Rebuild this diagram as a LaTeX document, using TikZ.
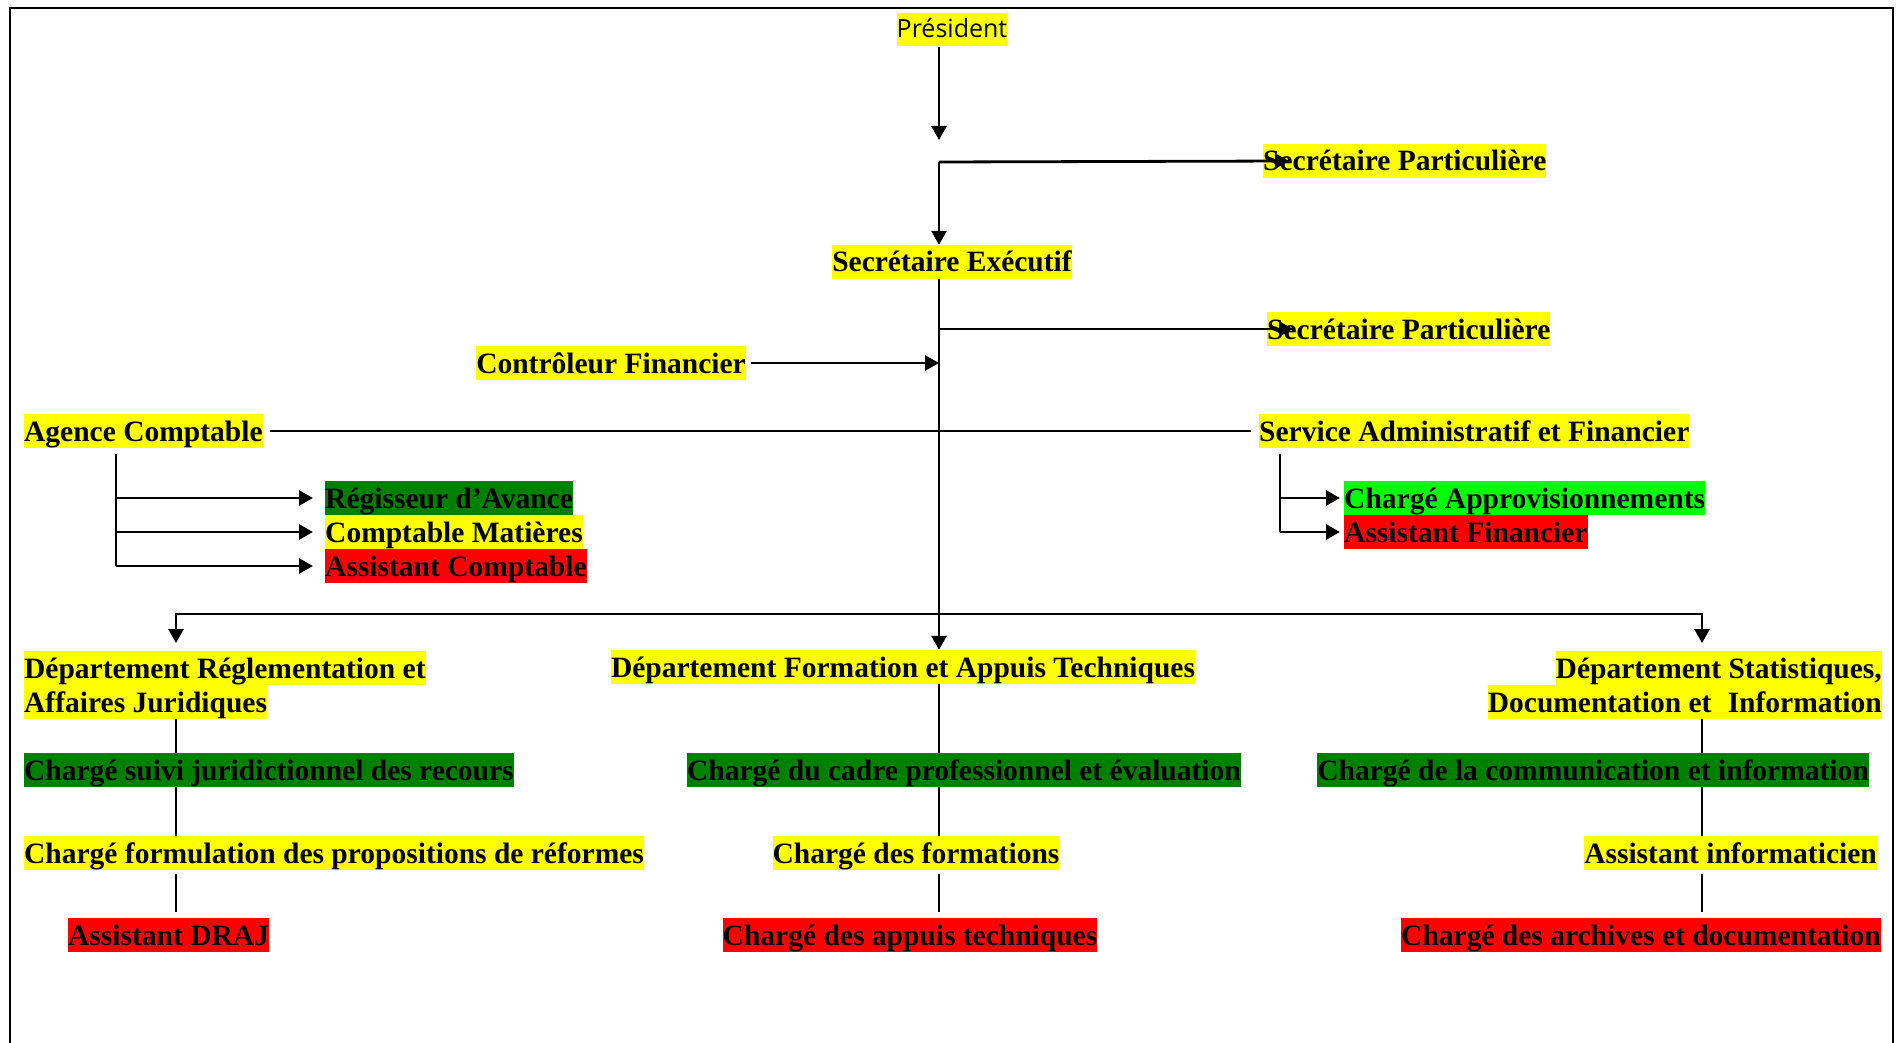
\documentclass[tikz,border=0pt]{standalone}
\usepackage{fontspec}
\setmainfont{Liberation Serif}
\newfontfamily\presfont{Open Sans}
\usetikzlibrary{arrows.meta,positioning,calc}
\definecolor{surjaune}{HTML}{FFFF00}
\definecolor{survert}{HTML}{008000}
\definecolor{survif}{HTML}{00FF00}
\definecolor{surrouge}{HTML}{FF0000}
\setlength{\fboxsep}{0pt}
\newcommand{\orgfont}{\fontsize{29.5}{34}\selectfont\bfseries}
\newcommand{\hlj}[1]{\colorbox{surjaune}{\rule[-7pt]{0pt}{34pt}#1}}
\tikzset{
  >={Triangle[length=14pt,width=15pt]},
  % postes
  poste/.style={inner sep=0pt,text height=27pt,text depth=7pt,font=\orgfont},
  jaune/.style={poste,fill=surjaune},
  vert/.style={poste,fill=survert},
  vif/.style={poste,fill=survif},
  rouge/.style={poste,fill=surrouge},
  bloc/.style={inner sep=0pt,font=\orgfont},
  % liens
  lien/.style={draw=black,line width=2.8pt},
  fleche/.style={lien,->},
  filet/.style={draw=black,line width=1.6pt},
  cadre/.style={draw=black,line width=2.2pt},
}
\begin{document}
\begin{tikzpicture}[x=1pt,y=-1pt]
  \useasboundingbox (0,0) rectangle (1899,1043);
  \draw[cadre] (10,1043) -- (10,8) -- (1893,8) -- (1893,1043);
  % direction
  \node[jaune,font=\presfont\fontsize{25}{28}\selectfont,text height=24pt,text depth=9pt]
    (pres) at (952,30) {Président};
  \node[jaune,anchor=west] (sp1) at (1263,161) {Secrétaire Particulière};
  \node[jaune] (se) at (952,262) {Secrétaire Exécutif};
  \node[jaune,anchor=west] (sp2) at (1267,329) {Secrétaire Particulière};
  \node[jaune,anchor=east] (cf) at (746,363) {Contrôleur Financier};
  \node[jaune,anchor=west] (ac) at (24,431) {Agence Comptable};
  \node[jaune,anchor=west] (saf) at (1259,431) {Service Administratif et Financier};
  \coordinate (j1) at (939,140);
  \coordinate (j2) at (939,162);
  \coordinate (bus) at (939,614);
  % agence comptable
  \node[vert,anchor=west] (reg) at (325,498) {Régisseur d’Avance};
  \node[jaune,anchor=west] (cmat) at (325,532) {Comptable Matières};
  \node[rouge,anchor=west] (acpt) at (325,566) {Assistant Comptable};
  \coordinate (acv) at (116,454);
  % service administratif
  \node[vif,anchor=west] (appro) at (1344,498) {Chargé Approvisionnements};
  \node[rouge,anchor=west] (afin) at (1344,532) {Assistant Financier};
  \coordinate (safv) at (1280,454);
  % departements
  \node[bloc,anchor=north west,align=left] (draj) at (24,651)
    {\hlj{Département Réglementation et}\\\hlj{Affaires Juridiques}};
  \node[jaune] (dfat) at (903,667) {Département Formation et Appuis Techniques\hspace{0.35em}};
  \node[bloc,anchor=north east,align=right] (dsdi) at (1882,651)
    {\hlj{Département Statistiques,}\\\hlj{Documentation et\hspace{0.3em} Information}};
  \coordinate (c1) at (176,643);
  \coordinate (c3) at (1702,643);
  \node[vert,anchor=west] (csj) at (24,770) {Chargé suivi juridictionnel des recours};
  \node[jaune,anchor=west] (cfr) at (24,853) {Chargé formulation des propositions de réformes};
  \node[rouge,anchor=west] (adraj) at (68,935) {Assistant DRAJ};
  \node[vert] (ccp) at (964,770) {Chargé du cadre professionnel et évaluation};
  \node[jaune] (cform) at (916,853) {Chargé des formations};
  \node[rouge] (capp) at (910,935) {Chargé des appuis techniques};
  \node[vert,anchor=east] (ccom) at (1869,770) {Chargé de la communication et information};
  \node[jaune,anchor=east] (ainf) at (1877,853) {Assistant informaticien};
  \node[rouge,anchor=east] (carch) at (1881,935) {Chargé des archives et documentation};

  \draw[fleche] (pres.south -| j1) -- (j1);
  \draw[fleche] (j2) -- ([xshift=26pt]sp1.west);
  \draw[fleche] (j2) -- (se.north -| j2);
  \draw[lien] (se.south -| j2) -- (bus);
  \draw[fleche] (bus) -- (dfat.north -| bus);
  \draw[fleche] (j2 |- sp2) -- ([xshift=26pt]sp2.west);
  \draw[fleche] ([xshift=5pt]cf.east) -- (j2 |- cf);
  \draw[lien] ([xshift=7pt]ac.east) -- ([xshift=-8pt]saf.west);
  \draw[lien] (acv) -- (acv |- acpt);
  \foreach \n in {reg,cmat,acpt}
    \draw[fleche] (acv |- \n.west) -- ([xshift=-12pt]\n.west);
  \draw[lien] (safv) -- (safv |- afin);
  \foreach \n in {appro,afin}
    \draw[fleche] (safv |- \n.west) -- ([xshift=-4pt]\n.west);
  \draw[fleche] (bus) -| (c1);
  \draw[fleche] (bus) -| (c3);
  % colonnes
  \draw[filet] (c1 |- draj.south) -- (c1 |- csj.north);
  \draw[filet] (c1 |- csj.south) -- (c1 |- cfr.north);
  \draw[filet] ([yshift=-4pt]c1 |- cfr.south) -- ([yshift=6pt]c1 |- adraj.north);
  \draw[filet] (bus |- dfat.south) -- (bus |- ccp.north);
  \draw[filet] (bus |- ccp.south) -- (bus |- cform.north);
  \draw[filet] ([yshift=-4pt]bus |- cform.south) -- ([yshift=6pt]bus |- capp.north);
  \draw[filet] (c3 |- dsdi.south) -- (c3 |- ccom.north);
  \draw[filet] (c3 |- ccom.south) -- (c3 |- ainf.north);
  \draw[filet] ([yshift=-4pt]c3 |- ainf.south) -- ([yshift=6pt]c3 |- carch.north);
\end{tikzpicture}
\end{document}
